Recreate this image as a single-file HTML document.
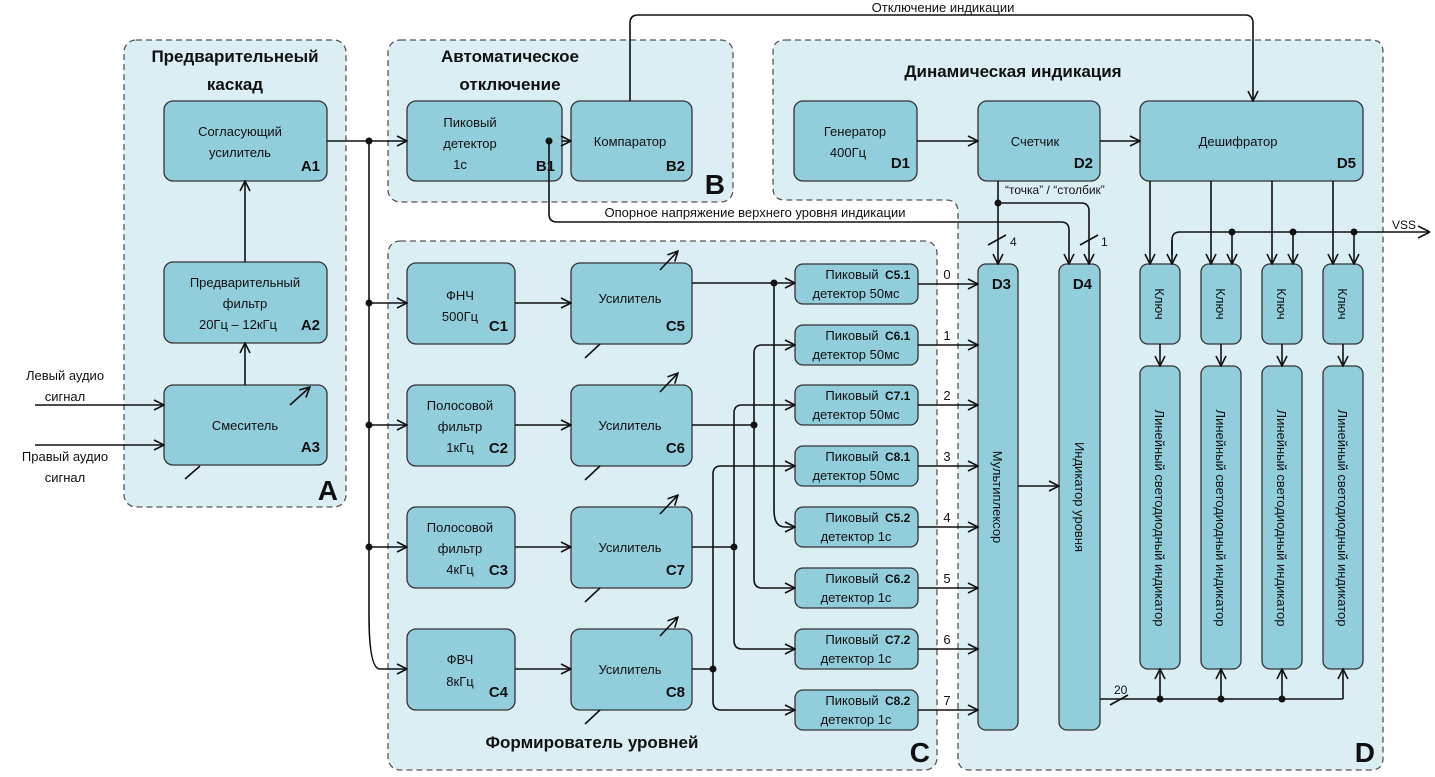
<!DOCTYPE html>
<html><head><meta charset="utf-8"><style>
html,body{margin:0;padding:0;background:#fff}
svg{display:block}
text{font-family:"Liberation Sans","DejaVu Sans",sans-serif;fill:#111}
.b{fill:#92cddc;stroke:#333;stroke-width:1.3}
.p{fill:#dbeef4;stroke:#555;stroke-width:1.3;stroke-dasharray:6 4}
.l{fill:none;stroke:#111;stroke-width:1.6}
.t{font-size:13px;text-anchor:middle}
.k{font-size:15px;font-weight:bold;text-anchor:end}
.h{font-size:17px;font-weight:bold;text-anchor:middle}
.s{font-size:12px}
.big{font-size:28px;font-weight:bold;text-anchor:end}
</style></head><body>
<svg width="1435" height="777" viewBox="0 0 1435 777" xmlns="http://www.w3.org/2000/svg">
<defs><marker id="a" viewBox="0 0 12 12" refX="11" refY="6" markerWidth="12" markerHeight="12" markerUnits="userSpaceOnUse" orient="auto"><path d="M1,1 L11,6 L1,11" fill="none" stroke="#111" stroke-width="1.6"/></marker></defs>
<rect class="p" x="124" y="40" width="222" height="467" rx="12"/>
<rect class="p" x="388" y="40" width="345" height="162" rx="12"/>
<path class="p" d="M785,40 H1371 Q1383,40 1383,52 V758 Q1383,770 1371,770 H970 Q958,770 958,758 V212 Q958,200 946,200 H785 Q773,200 773,188 V52 Q773,40 785,40 Z"/>
<rect class="p" x="388" y="241" width="549" height="529" rx="12"/>
<text class="h" x="235" y="62">Предварительнеый</text>
<text class="h" x="235" y="90">каскад</text>
<text class="h" x="510" y="62">Автоматическое</text>
<text class="h" x="510" y="90">отключение</text>
<text class="h" x="1013" y="77">Динамическая индикация</text>
<text class="h" x="592" y="748">Формирователь уровней</text>
<text class="big" x="338" y="500">A</text>
<text class="big" x="725" y="194">B</text>
<text class="big" x="930" y="762">C</text>
<text class="big" x="1375" y="762">D</text>
<rect class="b" x="164" y="101" width="163" height="80" rx="9"/>
<text class="t" x="240" y="136">Согласующий</text><text class="t" x="240" y="157">усилитель</text><text class="k" x="320" y="171">A1</text>
<rect class="b" x="164" y="262" width="163" height="81" rx="9"/>
<text class="t" x="245" y="287">Предварительный</text><text class="t" x="245" y="308">фильтр</text><text class="t" x="238" y="329">20Гц – 12кГц</text><text class="k" x="320" y="330">A2</text>
<rect class="b" x="164" y="385" width="163" height="80" rx="9"/>
<text class="t" x="245" y="430">Смеситель</text><text class="k" x="320" y="452">A3</text>
<rect class="b" x="407" y="101" width="155" height="80" rx="9"/>
<text class="t" x="470" y="127">Пиковый</text><text class="t" x="470" y="148">детектор</text><text class="t" x="460" y="169">1с</text><text class="k" x="555" y="171">B1</text>
<rect class="b" x="571" y="101" width="121" height="80" rx="9"/>
<text class="t" x="630" y="146">Компаратор</text><text class="k" x="685" y="171">B2</text>
<rect class="b" x="407" y="263" width="108" height="81" rx="9"/>
<text class="t" x="460" y="300">ФНЧ</text><text class="t" x="460" y="321">500Гц</text><text class="k" x="508" y="331">C1</text>
<rect class="b" x="407" y="385" width="108" height="81" rx="9"/>
<text class="t" x="460" y="410">Полосовой</text><text class="t" x="460" y="431">фильтр</text><text class="t" x="460" y="452">1кГц</text><text class="k" x="508" y="453">C2</text>
<rect class="b" x="407" y="507" width="108" height="81" rx="9"/>
<text class="t" x="460" y="532">Полосовой</text><text class="t" x="460" y="553">фильтр</text><text class="t" x="460" y="574">4кГц</text><text class="k" x="508" y="575">C3</text>
<rect class="b" x="407" y="629" width="108" height="81" rx="9"/>
<text class="t" x="460" y="664">ФВЧ</text><text class="t" x="460" y="686">8кГц</text><text class="k" x="508" y="697">C4</text>
<rect class="b" x="571" y="263" width="121" height="81" rx="9"/><text class="t" x="630" y="303">Усилитель</text><text class="k" x="685" y="331">C5</text>
<rect class="b" x="571" y="385" width="121" height="81" rx="9"/><text class="t" x="630" y="430">Усилитель</text><text class="k" x="685" y="453">C6</text>
<rect class="b" x="571" y="507" width="121" height="81" rx="9"/><text class="t" x="630" y="552">Усилитель</text><text class="k" x="685" y="575">C7</text>
<rect class="b" x="571" y="629" width="121" height="81" rx="9"/><text class="t" x="630" y="674">Усилитель</text><text class="k" x="685" y="697">C8</text>
<g font-size="12">
<rect class="b" x="795" y="264" width="123" height="40" rx="8"/><text class="t" x="852" y="279">Пиковый</text><text class="s" x="885" y="279" font-weight="bold">C5.1</text><text class="t" x="856" y="298">детектор 50мс</text>
<rect class="b" x="795" y="325" width="123" height="40" rx="8"/><text class="t" x="852" y="340">Пиковый</text><text class="s" x="885" y="340" font-weight="bold">C6.1</text><text class="t" x="856" y="359">детектор 50мс</text>
<rect class="b" x="795" y="385" width="123" height="40" rx="8"/><text class="t" x="852" y="400">Пиковый</text><text class="s" x="885" y="400" font-weight="bold">C7.1</text><text class="t" x="856" y="419">детектор 50мс</text>
<rect class="b" x="795" y="446" width="123" height="40" rx="8"/><text class="t" x="852" y="461">Пиковый</text><text class="s" x="885" y="461" font-weight="bold">C8.1</text><text class="t" x="856" y="480">детектор 50мс</text>
<rect class="b" x="795" y="507" width="123" height="40" rx="8"/><text class="t" x="852" y="522">Пиковый</text><text class="s" x="885" y="522" font-weight="bold">C5.2</text><text class="t" x="856" y="541">детектор 1с</text>
<rect class="b" x="795" y="568" width="123" height="40" rx="8"/><text class="t" x="852" y="583">Пиковый</text><text class="s" x="885" y="583" font-weight="bold">C6.2</text><text class="t" x="856" y="602">детектор 1с</text>
<rect class="b" x="795" y="629" width="123" height="40" rx="8"/><text class="t" x="852" y="644">Пиковый</text><text class="s" x="885" y="644" font-weight="bold">C7.2</text><text class="t" x="856" y="663">детектор 1с</text>
<rect class="b" x="795" y="690" width="123" height="40" rx="8"/><text class="t" x="852" y="705">Пиковый</text><text class="s" x="885" y="705" font-weight="bold">C8.2</text><text class="t" x="856" y="724">детектор 1с</text>
</g>
<rect class="b" x="794" y="101" width="123" height="80" rx="9"/>
<text class="t" x="855" y="136">Генератор</text><text class="t" x="848" y="157">400Гц</text><text class="k" x="910" y="168">D1</text>
<rect class="b" x="978" y="101" width="122" height="80" rx="9"/>
<text class="t" x="1035" y="146">Счетчик</text><text class="k" x="1093" y="168">D2</text>
<rect class="b" x="1140" y="101" width="223" height="80" rx="9"/>
<text class="t" x="1238" y="146">Дешифратор</text><text class="k" x="1356" y="168">D5</text>
<rect class="b" x="978" y="264" width="40" height="466" rx="8"/>
<text class="k" x="1011" y="289" font-size="16">D3</text>
<text class="t" transform="translate(993,497) rotate(90)">Мультиплексор</text>
<rect class="b" x="1059" y="264" width="41" height="466" rx="8"/>
<text class="k" x="1092" y="289" font-size="16">D4</text>
<text class="t" transform="translate(1075,497) rotate(90)">Индикатор уровня</text>
<rect class="b" x="1140" y="264" width="40" height="80" rx="8"/><text class="t" transform="translate(1155,304) rotate(90)">Ключ</text>
<rect class="b" x="1201" y="264" width="40" height="80" rx="8"/><text class="t" transform="translate(1216,304) rotate(90)">Ключ</text>
<rect class="b" x="1262" y="264" width="40" height="80" rx="8"/><text class="t" transform="translate(1277,304) rotate(90)">Ключ</text>
<rect class="b" x="1323" y="264" width="40" height="80" rx="8"/><text class="t" transform="translate(1338,304) rotate(90)">Ключ</text>
<rect class="b" x="1140" y="366" width="40" height="303" rx="8"/><text class="t" transform="translate(1155,518) rotate(90)">Линейный светодиодный индикатор</text>
<rect class="b" x="1201" y="366" width="40" height="303" rx="8"/><text class="t" transform="translate(1216,518) rotate(90)">Линейный светодиодный индикатор</text>
<rect class="b" x="1262" y="366" width="40" height="303" rx="8"/><text class="t" transform="translate(1277,518) rotate(90)">Линейный светодиодный индикатор</text>
<rect class="b" x="1323" y="366" width="40" height="303" rx="8"/><text class="t" transform="translate(1338,518) rotate(90)">Линейный светодиодный индикатор</text>
<g class="l" marker-end="url(#a)">
<path d="M35,405 H164"/><path d="M35,445 H164"/>
<path d="M245,385 V343"/><path d="M245,262 V181"/>
<path d="M327,141 H407"/>
<path d="M562,141 H571"/>
<path d="M369,141 V615 Q369,669 380,669 H407"/>
<path d="M369,303 H407"/><path d="M369,425 H407"/><path d="M369,547 H407"/>
<path d="M515,303 H571"/><path d="M515,425 H571"/><path d="M515,547 H571"/><path d="M515,669 H571"/>
<path d="M630,101 V23 Q630,15 638,15 H1245 Q1253,15 1253,23 V101"/>
<path d="M549,141 V214 Q549,222 557,222 H1061 Q1069,222 1069,230 V264"/>
<path d="M917,141 H978"/><path d="M1100,141 H1140"/>
<path d="M998,181 V264"/>
<path d="M998,203 H1081 Q1089,203 1089,211 V264"/>
<path d="M1018,486 H1059"/>
<path d="M692,283 H795"/>
<path d="M774,283 V510 Q774,527 785,527 H795"/>
<path d="M754,425 V353 Q754,345 762,345 H795"/>
<path d="M754,425 V579 Q754,588 762,588 H795"/>
<path d="M734,547 V413 Q734,405 742,405 H795"/>
<path d="M734,547 V640 Q734,649 742,649 H795"/>
<path d="M713,669 V474 Q713,466 721,466 H795"/>
<path d="M713,669 V701 Q713,710 721,710 H795"/>
<path d="M918,284 H978"/><path d="M918,345 H978"/><path d="M918,405 H978"/><path d="M918,466 H978"/>
<path d="M918,527 H978"/><path d="M918,588 H978"/><path d="M918,649 H978"/><path d="M918,710 H978"/>
<path d="M1150,181 V264"/><path d="M1211,181 V264"/><path d="M1272,181 V264"/><path d="M1333,181 V264"/>
<path d="M1172,240 V264"/>
<path d="M1232,232 V264"/><path d="M1293,232 V264"/><path d="M1354,232 V264"/>
<path d="M1160,344 V366"/><path d="M1221,344 V366"/><path d="M1282,344 V366"/><path d="M1343,344 V366"/>
<path d="M1160,699 V669"/><path d="M1221,699 V669"/><path d="M1282,699 V669"/><path d="M1343,699 V669"/>
<path d="M290,405 L310,387"/>
<path d="M660,270 L678,251"/><path d="M660,392 L678,373"/><path d="M660,514 L678,495"/><path d="M660,636 L678,617"/>
</g>
<path class="l" d="M692,425 H754 M692,547 H734 M692,669 H713"/>
<path class="l" d="M1430,232 H1180 Q1172,232 1172,240 V255"/>
<path class="l" d="M1430,232 L1418,226 M1430,232 L1418,238"/>
<path class="l" d="M1100,699 H1343"/>
<g class="l">
<path d="M185,479 L200,466"/>
<path d="M585,358 L600,344"/><path d="M585,480 L600,466"/><path d="M585,602 L600,588"/><path d="M585,724 L600,710"/>
<path d="M988,245 L1006,235"/><path d="M1080,245 L1098,235"/><path d="M1110,705 L1128,695"/>
</g>
<g fill="#111">
<circle cx="369" cy="141" r="3.5"/><circle cx="369" cy="303" r="3.5"/><circle cx="369" cy="425" r="3.5"/><circle cx="369" cy="547" r="3.5"/>
<circle cx="549" cy="141" r="3.5"/><circle cx="998" cy="203" r="3.5"/>
<circle cx="774" cy="283" r="3.5"/><circle cx="754" cy="425" r="3.5"/><circle cx="734" cy="547" r="3.5"/><circle cx="713" cy="669" r="3.5"/>
<circle cx="1232" cy="232" r="3.5"/><circle cx="1293" cy="232" r="3.5"/><circle cx="1354" cy="232" r="3.5"/>
<circle cx="1160" cy="699" r="3.5"/><circle cx="1221" cy="699" r="3.5"/><circle cx="1282" cy="699" r="3.5"/>
</g>
<text class="t" x="943" y="12">Отключение индикации</text>
<text class="t" x="755" y="217">Опорное напряжение верхнего уровня индикации</text>
<text class="s" x="1005" y="194" font-size="11">“точка” / “столбик”</text>
<text class="s" x="1010" y="246">4</text><text class="s" x="1101" y="246">1</text>
<text class="s" x="1114" y="694">20</text>
<text class="s" x="1392" y="229">VSS</text>
<g class="t" font-size="13">
<text x="947" y="279">0</text><text x="947" y="340">1</text><text x="947" y="400">2</text><text x="947" y="461">3</text>
<text x="947" y="522">4</text><text x="947" y="583">5</text><text x="947" y="644">6</text><text x="947" y="705">7</text>
</g>
<text class="t" x="65" y="380">Левый аудио</text><text class="t" x="65" y="401">сигнал</text>
<text class="t" x="65" y="461">Правый аудио</text><text class="t" x="65" y="482">сигнал</text>
</svg>
</body></html>
